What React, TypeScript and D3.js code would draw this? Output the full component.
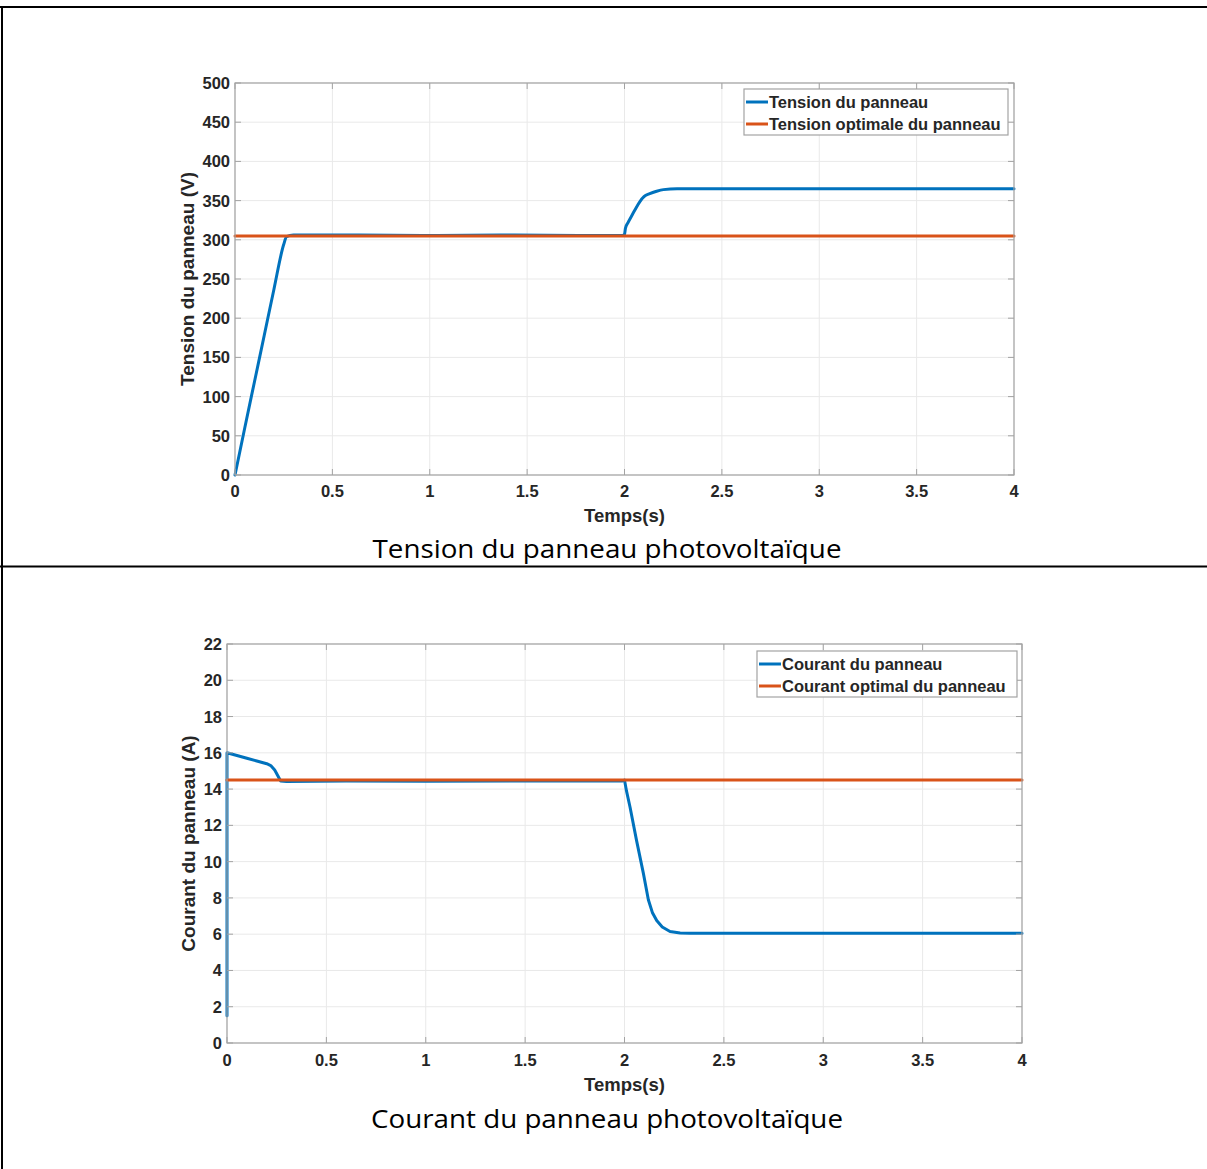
import React from "react";
import * as d3 from "d3";

// ---------- DATA ----------
const timeTicks = [0, 0.5, 1, 1.5, 2, 2.5, 3, 3.5, 4];
const tensionTicks = [0, 50, 100, 150, 200, 250, 300, 350, 400, 450, 500];
const courantTicks = [0, 2, 4, 6, 8, 10, 12, 14, 16, 18, 20, 22];

const tensionTime = [0, 0.05, 0.1, 0.15, 0.2, 0.25, 0.265, 0.3, 0.6, 1.0, 1.4, 1.8, 1.99, 2.0, 2.005, 2.018, 2.04, 2.06, 2.08, 2.1, 2.13, 2.165, 2.2, 2.27, 3, 4];
const tensionPanneau = [0, 60, 119, 178, 237, 294, 304, 306, 306, 305.5, 306, 305.5, 305.5, 307, 315, 322, 332, 341, 349, 355, 359, 362, 364, 365, 365, 365];
const tensionOptTime = [0, 4];
const tensionOptimale = [305, 305];

const courantTime = [0, 0, 0.05, 0.1, 0.15, 0.2, 0.22, 0.24, 0.255, 0.27, 0.3, 0.6, 1.0, 1.5, 1.99, 2.0, 2.01, 2.028, 2.06, 2.095, 2.12, 2.14, 2.162, 2.19, 2.229, 2.28, 2.33, 3, 4];
const courantPanneau = [1.5, 16, 15.85, 15.7, 15.55, 15.4, 15.3, 15.05, 14.75, 14.45, 14.42, 14.45, 14.43, 14.45, 14.45, 14.5, 13.9, 13.0, 11.2, 9.35, 7.9, 7.2, 6.75, 6.4, 6.15, 6.07, 6.05, 6.05, 6.05];
const courantOptTime = [0, 4];
const courantOptimal = [14.5, 14.5];

const BLUE = "#0072BD";
const ORANGE = "#D95319";
const TXT = "#262626";
const AXIS = "#a3a3a3";
const GRID = "#e9e9e9";
const FONT = "'Liberation Sans', Arial, Helvetica, sans-serif";

type Series = { t: number[]; v: number[]; color: string; name: string };

type PanelProps = {
  x0: number; x1: number; y0: number; y1: number;
  yMax: number; yTicks: number[]; yLabel: string;
  series: Series[];
  legend: { x: number; y: number; w: number; h: number };
  tickBaseline: number; xLabelBaseline: number; yLabelX: number;
};

function Panel(p: PanelProps) {
  const x = d3.scaleLinear().domain([0, 4]).range([p.x0, p.x1]);
  const y = d3.scaleLinear().domain([0, p.yMax]).range([p.y1, p.y0]);
  const tk = 6;
  return (
    <g>
      {timeTicks.map((t) => (
        <line key={"gx" + t} x1={x(t)} x2={x(t)} y1={p.y0} y2={p.y1} stroke={GRID} strokeWidth={1} />
      ))}
      {p.yTicks.map((v) => (
        <line key={"gy" + v} x1={p.x0} x2={p.x1} y1={y(v)} y2={y(v)} stroke={GRID} strokeWidth={1} />
      ))}
      {p.series.map((s) => {
        const pts: [number, number][] = s.t.map((t, i) => [t, s.v[i]]);
        const line = d3.line<[number, number]>().x((d) => x(d[0])).y((d) => y(d[1])).curve(d3.curveMonotoneX);
        const lineLin = d3.line<[number, number]>().x((d) => x(d[0])).y((d) => y(d[1]));
        const hasDup = s.t.some((t, i) => i > 0 && t === s.t[i - 1]);
        return (
          <path key={s.name} d={(hasDup ? lineLin : line)(pts) || ""} fill="none" stroke={s.color} strokeWidth={3} strokeLinejoin="round" strokeLinecap="round" />
        );
      })}
      <rect x={p.x0} y={p.y0} width={p.x1 - p.x0} height={p.y1 - p.y0} fill="none" stroke={AXIS} strokeWidth={1.2} />
      {timeTicks.map((t) => (
        <g key={"tx" + t}>
          <line x1={x(t)} x2={x(t)} y1={p.y1} y2={p.y1 - tk} stroke={AXIS} />
          <line x1={x(t)} x2={x(t)} y1={p.y0} y2={p.y0 + tk} stroke={AXIS} />
          <text x={x(t)} y={p.tickBaseline} textAnchor="middle" fontFamily={FONT} fontWeight="bold" fontSize={16.5} fill={TXT}>
            {String(t)}
          </text>
        </g>
      ))}
      {p.yTicks.map((v) => (
        <g key={"ty" + v}>
          <line x1={p.x0} x2={p.x0 + tk} y1={y(v)} y2={y(v)} stroke={AXIS} />
          <line x1={p.x1} x2={p.x1 - tk} y1={y(v)} y2={y(v)} stroke={AXIS} />
          <text x={p.x0 - 5} y={y(v) + 6} textAnchor="end" fontFamily={FONT} fontWeight="bold" fontSize={16.5} fill={TXT}>
            {String(v)}
          </text>
        </g>
      ))}
      <text x={(p.x0 + p.x1) / 2} y={p.xLabelBaseline} textAnchor="middle" fontFamily={FONT} fontWeight="bold" fontSize={18.5} fill={TXT}>
        Temps(s)
      </text>
      <text transform={`translate(${p.yLabelX},${(p.y0 + p.y1) / 2}) rotate(-90)`} textAnchor="middle" fontFamily={FONT} fontWeight="bold" fontSize={19} fill={TXT}>
        {p.yLabel}
      </text>
      <rect x={p.legend.x} y={p.legend.y} width={p.legend.w} height={p.legend.h} fill="#fff" stroke={AXIS} strokeWidth={1.2} />
      {p.series.map((s, i) => {
        const cy = p.legend.y + 13 + i * 22;
        return (
          <g key={"lg" + s.name}>
            <line x1={p.legend.x + 2} x2={p.legend.x + 24} y1={cy} y2={cy} stroke={s.color} strokeWidth={3} />
            <text x={p.legend.x + 25} y={cy + 6} fontFamily={FONT} fontWeight="bold" fontSize={16.5} fill={TXT}>
              {s.name}
            </text>
          </g>
        );
      })}
    </g>
  );
}

export default function App() {
  return (
    <svg width={1207} height={1169} style={{ position: "absolute", left: 0, top: 0, background: "#fff" }}>
      <rect x={0} y={0} width={1207} height={1169} fill="#fff" />
      <line x1={0} x2={1207} y1={7} y2={7} stroke="#000" strokeWidth={2} />
      <line x1={0} x2={1207} y1={566.5} y2={566.5} stroke="#000" strokeWidth={2} />
      <line x1={2} x2={2} y1={6} y2={1169} stroke="#000" strokeWidth={2} />

      <Panel
        x0={235} x1={1014} y0={83} y1={475}
        yMax={500} yTicks={tensionTicks} yLabel="Tension du panneau (V)"
        series={[
          { t: tensionTime, v: tensionPanneau, color: BLUE, name: "Tension du panneau" },
          { t: tensionOptTime, v: tensionOptimale, color: ORANGE, name: "Tension optimale du panneau" },
        ]}
        legend={{ x: 744, y: 89, w: 264, h: 46 }}
        tickBaseline={497} xLabelBaseline={522} yLabelX={194}
      />
      <text x={607} y={558} textAnchor="middle" fontFamily="'Open Sans', 'Noto Sans', sans-serif" fontSize={25} fill="#000" textLength={469} lengthAdjust="spacingAndGlyphs">
        Tension du panneau photovoltaïque
      </text>

      <Panel
        x0={227} x1={1022} y0={644} y1={1043}
        yMax={22} yTicks={courantTicks} yLabel="Courant du panneau (A)"
        series={[
          { t: courantTime, v: courantPanneau, color: BLUE, name: "Courant du panneau" },
          { t: courantOptTime, v: courantOptimal, color: ORANGE, name: "Courant optimal du panneau" },
        ]}
        legend={{ x: 757, y: 651, w: 260, h: 46 }}
        tickBaseline={1066} xLabelBaseline={1091} yLabelX={195}
      />
      <text x={607} y={1128} textAnchor="middle" fontFamily="'Open Sans', 'Noto Sans', sans-serif" fontSize={25} fill="#000" textLength={472} lengthAdjust="spacingAndGlyphs">
        Courant du panneau photovoltaïque
      </text>
    </svg>
  );
}
